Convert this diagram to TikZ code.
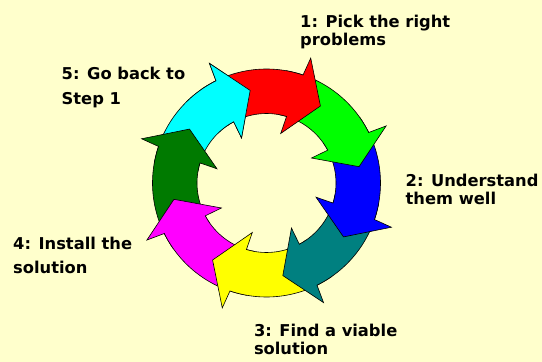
\documentclass[tikz,border=0pt]{standalone}
\usepackage{fontspec}
\newfontfamily\labelfont{DejaVu Sans}
\definecolor{bgyellow}{HTML}{FFFFCC}
\definecolor{stepred}{HTML}{FF0000}
\definecolor{stepgreen}{HTML}{00FF00}
\definecolor{stepblue}{HTML}{0000FF}
\definecolor{stepteal}{HTML}{008080}
\definecolor{stepyellow}{HTML}{FFFF00}
\definecolor{stepmagenta}{HTML}{FF00FF}
\definecolor{stepdkgreen}{HTML}{007A00}
\definecolor{stepcyan}{HTML}{00FFFF}
\tikzset{
  ringarrow/.style={draw=black,line width=0.6pt,line join=miter},
  steplabel/.style={font=\labelfont\bfseries\fontsize{16.3}{18}\selectfont,
                    text=black,align=left,anchor=base west,inner sep=0pt}
}
% one curved block arrow of the ring, tip at angle #1
\newcommand{\ringarrowpath}[1]{%
  ({#1+70}:114pt) arc[start angle=#1+70,end angle=#1+16.3,radius=114pt]
  -- ({#1+15.5}:132.5pt) -- (#1:94pt) -- ({#1+19}:51.5pt) -- ({#1+18.2}:69.5pt)
  arc[start angle=#1+18.2,end angle=#1+70,radius=69.5pt] -- cycle}

\begin{document}
\begin{tikzpicture}[x=1pt,y=1pt]
    \path[use as bounding box,fill=bgyellow] (0,0) rectangle (542,362);
    \begin{scope}[shift={(266.5,179)}]
      \foreach \col/\tip in {stepcyan/100, stepdkgreen/145, stepmagenta/-170,
                             stepyellow/-125, stepteal/-80, stepblue/-35,
                             stepgreen/10, stepred/55}{
        \draw[ringarrow,fill=\col] \ringarrowpath{\tip};
      }
      % cyan head lies over the red tail
      \begin{scope}
        \clip (0,0) -- (95:150pt) arc[start angle=95,end angle=135,radius=150pt] -- cycle;
        \draw[ringarrow,fill=stepcyan] \ringarrowpath{100};
      \end{scope}
    \end{scope}
    % base anchor sits on the last line
    \node[steplabel] (pick) at (300,316.3) {1: Pick the right\\problems};
    \node[steplabel] (understand) at (405.5,157.7) {2: Understand\\them well};
    \node[steplabel] (viable) at (253.8,7) {3: Find a viable\\solution};
    \node[steplabel] (install) at (13,88.3) {4: Install the\\[6.5pt]solution};
    \node[steplabel] (goback) at (61.5,257.7) {5: Go back to\\[6.5pt]Step 1};
\end{tikzpicture}
\end{document}
